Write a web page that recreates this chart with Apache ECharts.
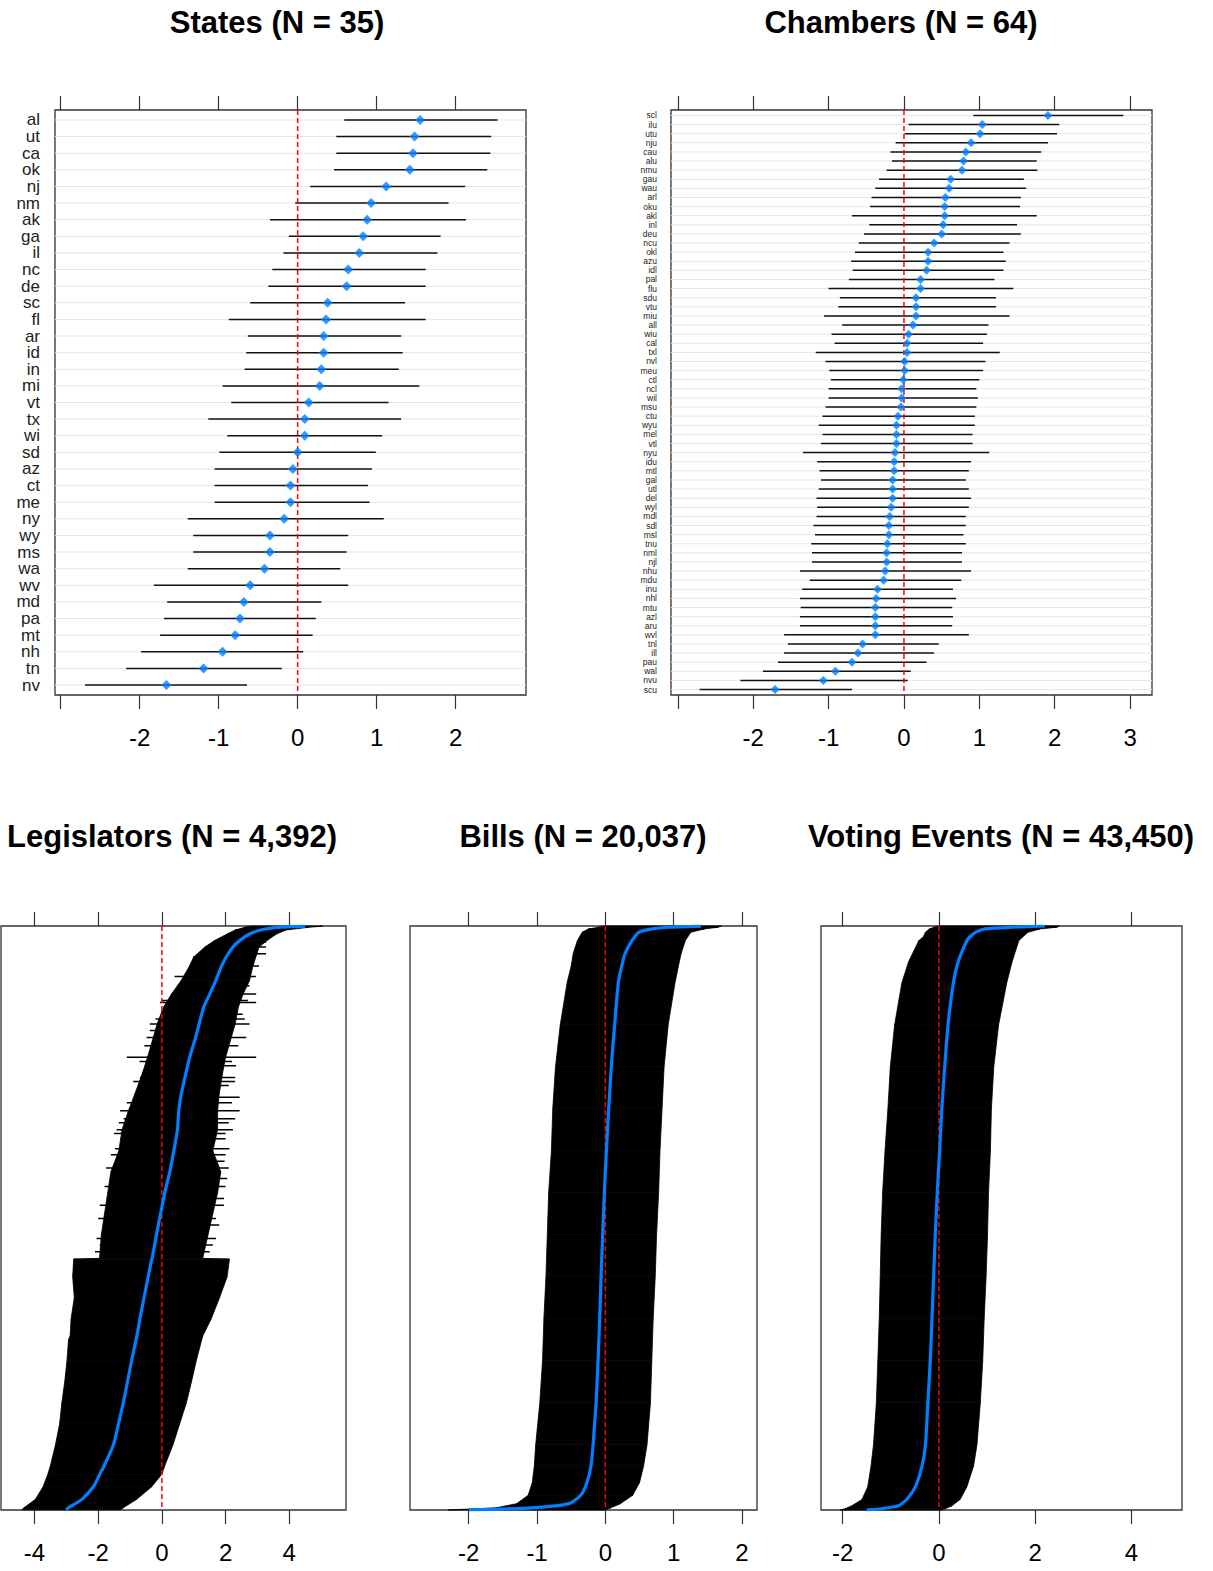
<!DOCTYPE html>
<html><head><meta charset="utf-8">
<script src="https://cdn.jsdelivr.net/npm/echarts@6/dist/echarts.min.js"></script>
<style>html,body{margin:0;padding:0;background:#fff}#c{width:1213px;height:1571px}</style>
</head><body><div id="c"></div>
<script>
// ---------- DATA ----------
const stateNames = ['al','ut','ca','ok','nj','nm','ak','ga','il','nc','de','sc','fl','ar','id','in','mi','vt','tx','wi','sd','az','ct','me','ny','wy','ms','wa','wv','md','pa','mt','nh','tn','nv'];
const statePt = [1.55,1.48,1.46,1.42,1.12,0.93,0.88,0.83,0.78,0.64,0.62,0.38,0.36,0.33,0.33,0.30,0.28,0.14,0.09,0.09,0.0,-0.06,-0.09,-0.09,-0.17,-0.35,-0.35,-0.42,-0.60,-0.68,-0.73,-0.79,-0.95,-1.19,-1.66];
const stateLo = [0.59,0.49,0.49,0.46,0.16,-0.03,-0.35,-0.11,-0.18,-0.32,-0.37,-0.60,-0.87,-0.63,-0.65,-0.67,-0.95,-0.84,-1.13,-0.89,-0.99,-1.05,-1.05,-1.05,-1.39,-1.32,-1.32,-1.39,-1.82,-1.65,-1.69,-1.74,-1.98,-2.17,-2.69];
const stateHi = [2.53,2.45,2.44,2.40,2.12,1.91,2.13,1.81,1.77,1.62,1.62,1.36,1.62,1.31,1.33,1.28,1.54,1.15,1.31,1.07,0.99,0.94,0.89,0.91,1.09,0.64,0.62,0.54,0.64,0.30,0.23,0.19,0.07,-0.20,-0.64];

const chamberNames = ['scl','ilu','utu','nju','cau','alu','nmu','gau','wau','arl','oku','akl','inl','deu','ncu','okl','azu','idl','pal','flu','sdu','vtu','miu','all','wiu','cal','txl','nvl','meu','ctl','ncl','wil','msu','ctu','wyu','mel','vtl','nyu','idu','mtl','gal','utl','del','wyl','mdl','sdl','msl','tnu','nml','njl','nhu','mdu','inu','nhl','mtu','azl','aru','wvl','tnl','ill','pau','wal','nvu','scu'];
const chamberPt = [1.91,1.04,1.01,0.89,0.82,0.79,0.77,0.62,0.60,0.55,0.54,0.54,0.52,0.50,0.40,0.32,0.32,0.30,0.22,0.22,0.16,0.16,0.16,0.12,0.06,0.04,0.04,0.01,0.01,-0.01,-0.03,-0.03,-0.04,-0.08,-0.10,-0.10,-0.10,-0.12,-0.13,-0.13,-0.15,-0.15,-0.15,-0.17,-0.19,-0.20,-0.20,-0.22,-0.23,-0.23,-0.25,-0.27,-0.35,-0.37,-0.38,-0.38,-0.38,-0.38,-0.55,-0.61,-0.69,-0.91,-1.07,-1.71];
const chamberLo = [0.92,0.06,0.01,-0.11,-0.18,-0.16,-0.23,-0.33,-0.38,-0.43,-0.45,-0.69,-0.46,-0.53,-0.60,-0.65,-0.70,-0.68,-0.73,-1.00,-0.85,-0.87,-1.06,-0.82,-0.96,-0.92,-1.17,-1.04,-0.99,-0.97,-1.00,-1.00,-1.04,-1.08,-1.13,-1.08,-1.10,-1.34,-1.15,-1.12,-1.10,-1.13,-1.16,-1.15,-1.16,-1.20,-1.18,-1.23,-1.22,-1.22,-1.38,-1.25,-1.35,-1.38,-1.37,-1.38,-1.38,-1.59,-1.54,-1.59,-1.67,-1.87,-2.17,-2.71];
const chamberHi = [2.91,2.06,2.03,1.91,1.82,1.76,1.77,1.59,1.62,1.55,1.54,1.76,1.50,1.55,1.40,1.32,1.35,1.32,1.20,1.45,1.22,1.22,1.40,1.12,1.10,1.05,1.27,1.08,1.05,1.00,0.96,0.98,0.96,0.94,0.94,0.91,0.91,1.13,0.89,0.86,0.82,0.86,0.89,0.86,0.82,0.82,0.79,0.82,0.77,0.77,0.89,0.76,0.65,0.69,0.64,0.65,0.64,0.86,0.46,0.40,0.30,0.09,0.05,-0.69];

// Legislators (N = 4,392): sampled rows (rank from top)
const legN = 4392;
const legIdx = [1,10,30,60,110,158,233,309,412,512,612,737,863,988,1114,1264,1390,1532,1690,1848,2006,2164,2322,2480,2500,2506,2638,2796,2954,3081,3112,3270,3428,3586,3744,3902,4060,4124,4218,4313,4376,4392];
const legPt  = [4.5,3.6,3.1,2.75,2.44,2.23,2.02,1.86,1.69,1.5,1.31,1.17,1.03,0.87,0.75,0.61,0.53,0.49,0.375,0.25,0.09,-0.04,-0.17,-0.29,-0.31,-0.32,-0.43,-0.56,-0.69,-0.78,-0.81,-0.95,-1.08,-1.21,-1.36,-1.52,-1.81,-1.95,-2.15,-2.51,-2.93,-3.0];
const legLo  = [2.8,2.6,2.3,2.05,1.65,1.35,1.0,0.85,0.6,0.3,0.05,-0.15,-0.3,-0.45,-0.62,-0.85,-1.05,-1.25,-1.35,-1.6,-1.7,-1.8,-1.9,-1.95,-1.96,-2.77,-2.8,-2.75,-2.85,-2.88,-2.93,-2.98,-3.05,-3.14,-3.21,-3.34,-3.5,-3.58,-3.73,-3.97,-4.33,-4.4];
const legHi  = [5.05,4.6,3.9,3.6,3.3,3.05,2.95,2.85,2.75,2.55,2.4,2.3,2.15,2.0,1.9,1.8,1.75,1.75,1.6,1.85,1.75,1.6,1.45,1.3,1.28,2.12,2.05,1.81,1.55,1.29,1.25,1.08,0.93,0.77,0.56,0.35,0.09,0.0,-0.32,-0.79,-1.21,-1.3];
// individual wide legislator intervals sticking out of the band
const legSpikeIdx = [120,158,208,233,300,380,450,512,560,575,663,700,737,787,838,900,988,1020,1051,1139,1170,1200,1289,1330,1390,1450,1480,1532,1560,1600,1675,1720,1770,1820,1900,1960,2050,2100,2200,2250,2350,2400,2450];
const legSpikeLo  = [1.6,1.5,1.3,0.98,0.9,0.4,0.5,0.56,0.0,-0.06,0.2,-0.2,-0.38,-0.38,-0.48,-0.55,-1.10,-0.7,-0.2,-0.69,-0.9,-0.6,-0.79,-1.1,-1.31,-1.2,-1.35,-1.42,-1.5,-1.3,-1.47,-1.6,-1.47,-1.75,-1.6,-1.8,-1.7,-1.95,-2.0,-1.85,-2.05,-1.95,-2.1];
const legSpikeHi  = [3.27,3.27,3.27,2.85,3.05,2.95,2.75,2.96,2.7,2.96,2.54,2.6,2.75,2.1,2.65,2.4,2.96,2.2,2.33,2.3,2.3,2.1,2.44,2.2,2.44,2.3,2.1,2.23,2.0,2.0,2.12,2.0,1.97,2.1,2.05,2.0,1.95,1.95,1.7,1.8,1.7,1.6,1.5];

// Bills (N = 20,037)
const billN = 20037;
const billIdx = [1,43,101,216,505,937,1369,1946,3388,4829,6271,7712,9154,10595,12037,13478,14920,16361,17803,18523,19100,19532,19820,19964,20037];
const billPt  = [1.4,0.9,0.68,0.49,0.39,0.29,0.24,0.19,0.136,0.087,0.049,0.015,-0.015,-0.039,-0.063,-0.083,-0.107,-0.136,-0.18,-0.21,-0.27,-0.36,-0.53,-1.07,-2.0];
const billLo  = [0.0,-0.1,-0.25,-0.34,-0.41,-0.47,-0.5,-0.56,-0.66,-0.73,-0.77,-0.79,-0.83,-0.85,-0.87,-0.9,-0.92,-0.96,-1.02,-1.04,-1.07,-1.13,-1.3,-1.6,-2.3];
const billHi  = [1.7,1.65,1.45,1.25,1.17,1.11,1.07,1.02,0.92,0.86,0.83,0.80,0.78,0.75,0.73,0.70,0.68,0.66,0.61,0.56,0.50,0.40,0.22,0.08,0.0];

// Voting Events (N = 43,450)
const voteN = 43450;
const voteIdx = [1,94,219,469,782,1094,2657,4220,7346,10472,13598,16724,19850,22976,26102,29228,32354,35480,38606,40169,41732,42670,43139,43357,43450];
const votePt  = [2.2,1.5,0.96,0.76,0.65,0.58,0.40,0.30,0.19,0.12,0.06,0.014,-0.035,-0.076,-0.11,-0.145,-0.18,-0.23,-0.28,-0.35,-0.49,-0.67,-0.84,-1.19,-1.5];
const voteLo  = [0.0,-0.1,-0.2,-0.28,-0.32,-0.42,-0.63,-0.77,-0.92,-1.01,-1.06,-1.12,-1.17,-1.2,-1.22,-1.24,-1.27,-1.30,-1.36,-1.41,-1.48,-1.6,-1.81,-1.95,-2.05];
const voteHi  = [2.5,2.45,2.1,1.85,1.75,1.66,1.52,1.41,1.24,1.14,1.09,1.07,1.03,1.01,0.98,0.94,0.91,0.86,0.79,0.72,0.58,0.44,0.27,0.13,0.05];

// tick values / tick labels
const stateTicks = [-3,-2,-1,0,1,2], stateTickLabels = [-2,-1,0,1,2];
const chamberTicks = [-3,-2,-1,0,1,2,3], chamberTickLabels = [-2,-1,0,1,2,3];
const legTicks = [-4,-2,0,2,4], legTickLabels = [-4,-2,0,2,4];
const billTicks = [-2,-1,0,1,2], billTickLabels = [-2,-1,0,1,2];
const voteTicks = [-2,0,2,4], voteTickLabels = [-2,0,2,4];

// ---------- CHART ----------
const FONT = '"Liberation Sans", Arial, sans-serif';
const chart = echarts.init(document.getElementById('c'), null, {renderer: 'svg'});

const grids = [
  {left: 55, top: 110, width: 471, height: 585},
  {left: 671, top: 110, width: 481, height: 585},
  {left: 1, top: 926, width: 345, height: 584},
  {left: 410, top: 926, width: 347, height: 584},
  {left: 821, top: 926, width: 361, height: 584}
].map(g => Object.assign(g, {show: true, borderColor: '#333', borderWidth: 1.3, backgroundColor: '#fff', containLabel: false}));

const xRanges = [[-3.07, 2.89], [-3.09, 3.29], [-5.05, 5.78], [-2.86, 2.22], [-2.45, 5.05]];
const tickSets = [stateTicks, chamberTicks, legTicks, billTicks, voteTicks];
const labelSets = [stateTickLabels, chamberTickLabels, legTickLabels, billTickLabels, voteTickLabels];

const xAxes = [];
xRanges.forEach((r, gi) => {
  ['bottom', 'top'].forEach(pos => {
    xAxes.push({
      type: 'value', gridIndex: gi, position: pos, min: r[0], max: r[1],
      axisLine: {show: false, onZero: false}, splitLine: {show: false},
      axisTick: {show: true, inside: false, length: 14, customValues: tickSets[gi], lineStyle: {color: '#333', width: 1.2}},
      axisLabel: {show: pos === 'bottom', customValues: labelSets[gi], fontSize: 24, color: '#000', margin: 30,
        fontFamily: FONT, formatter: v => String(v), showMinLabel: true, showMaxLabel: true}
    });
  });
});

function rowYAxis(gi, n) {
  return {type: 'value', gridIndex: gi, min: 0.4, max: n + 0.6, inverse: true,
    axisLine: {show: false}, axisTick: {show: false}, splitLine: {show: false}, axisLabel: {show: false}};
}
function hiddenYAxis(gi, n) {
  return {type: 'value', gridIndex: gi, min: 0, max: n + 1, inverse: true,
    axisLine: {show: false}, axisTick: {show: false}, splitLine: {show: false}, axisLabel: {show: false}};
}
const yAxes = [rowYAxis(0, stateNames.length), rowYAxis(1, chamberNames.length),
  hiddenYAxis(2, legN), hiddenYAxis(3, billN), hiddenYAxis(4, voteN)];

const series = [];
function dotPanel(gi, names, pt, lo, hi, fontSize, margin) {
  const xi = gi * 2, n = names.length;
  // row gridlines
  series.push({type: 'custom', xAxisIndex: xi, yAxisIndex: gi, silent: true, z: 1,
    data: names.map((_, i) => [0, i + 1]),
    renderItem: (p, api) => {
      const y = api.coord([0, api.value(1)])[1], cs = p.coordSys;
      return {type: 'line', shape: {x1: cs.x, y1: y, x2: cs.x + cs.width, y2: y}, style: {stroke: '#e6e6e6', lineWidth: 1}};
    }});
  // row labels (left of panel)
  series.push({type: 'custom', xAxisIndex: xi, yAxisIndex: gi, silent: true, z: 5, clip: false,
    data: names.map((nm, i) => [0, i + 1, nm]),
    renderItem: (p, api) => {
      const y = api.coord([0, api.value(1)])[1], cs = p.coordSys;
      return {type: 'text', x: cs.x - margin, y: y,
        style: {text: names[p.dataIndex], fontSize: fontSize, fontFamily: FONT, fill: '#222',
          align: 'right', verticalAlign: 'middle'}};
    }});
  // interval bars
  series.push({type: 'custom', xAxisIndex: xi, yAxisIndex: gi, silent: true, z: 2,
    data: names.map((_, i) => [lo[i], hi[i], i + 1]),
    renderItem: (p, api) => {
      const a = api.coord([api.value(0), api.value(2)]), b = api.coord([api.value(1), api.value(2)]);
      return {type: 'line', shape: {x1: a[0], y1: a[1], x2: b[0], y2: b[1]}, style: {stroke: '#111', lineWidth: 1.5}};
    }});
  series.push({type: 'line', xAxisIndex: xi, yAxisIndex: gi, silent: true, z: 3, symbol: 'none',
    data: [[0, 0.4], [0, n + 0.6]], lineStyle: {color: '#ff0000', width: 1.5, type: [5, 3]}});
  series.push({type: 'scatter', xAxisIndex: xi, yAxisIndex: gi, silent: true, z: 4,
    symbol: 'diamond', symbolSize: gi === 0 ? 10 : 9, itemStyle: {color: '#0080ff'},
    data: pt.map((v, i) => [v, i + 1])});
}
dotPanel(0, stateNames, statePt, stateLo, stateHi, 17, 15);
dotPanel(1, chamberNames, chamberPt, chamberLo, chamberHi, 8.5, 14);

function bandPanel(gi, n, idx, pt, lo, hi, spikes) {
  const xi = gi * 2;
  const quads = [];
  for (let i = 0; i < idx.length - 1; i++) quads.push([lo[i], hi[i], idx[i], lo[i + 1], hi[i + 1], idx[i + 1]]);
  series.push({type: 'custom', xAxisIndex: xi, yAxisIndex: gi, silent: true, z: 2, data: quads,
    renderItem: (p, api) => {
      const a = api.coord([api.value(0), api.value(2)]), b = api.coord([api.value(1), api.value(2)]);
      const c = api.coord([api.value(4), api.value(5)]), d = api.coord([api.value(3), api.value(5)]);
      return {type: 'polygon', shape: {points: [a, b, c, d]}, style: {fill: '#000', stroke: '#000', lineWidth: 0.8}};
    }});
  if (spikes) {
    series.push({type: 'custom', xAxisIndex: xi, yAxisIndex: gi, silent: true, z: 2,
      data: spikes[0].map((v, i) => [spikes[1][i], spikes[2][i], v]),
      renderItem: (p, api) => {
        const a = api.coord([api.value(0), api.value(2)]), b = api.coord([api.value(1), api.value(2)]);
        return {type: 'line', shape: {x1: a[0], y1: a[1], x2: b[0], y2: b[1]}, style: {stroke: '#000', lineWidth: 1.5}};
      }});
  }
  series.push({type: 'line', xAxisIndex: xi, yAxisIndex: gi, silent: true, z: 3, symbol: 'none',
    data: [[0, 0], [0, n + 1]], lineStyle: {color: '#ff0000', width: 1.5, type: [5, 3]}});
  series.push({type: 'line', xAxisIndex: xi, yAxisIndex: gi, silent: true, z: 4, symbol: 'none', smooth: 0.2,
    data: pt.map((v, i) => [v, idx[i]]), lineStyle: {color: '#0080ff', width: 3.2}});
}
bandPanel(2, legN, legIdx, legPt, legLo, legHi, [legSpikeIdx, legSpikeLo, legSpikeHi]);
bandPanel(3, billN, billIdx, billPt, billLo, billHi, null);
bandPanel(4, voteN, voteIdx, votePt, voteLo, voteHi, null);

const titles = [
  {text: 'States (N = 35)', x: 277, y: 22},
  {text: 'Chambers (N = 64)', x: 901, y: 22},
  {text: 'Legislators (N = 4,392)', x: 172, y: 836},
  {text: 'Bills (N = 20,037)', x: 583, y: 836},
  {text: 'Voting Events (N = 43,450)', x: 1001, y: 836}
];

chart.setOption({
  animation: false,
  backgroundColor: '#fff',
  grid: grids,
  xAxis: xAxes,
  yAxis: yAxes,
  series: series,
  graphic: titles.map(t => ({type: 'text', x: t.x, y: t.y, silent: true,
    style: {text: t.text, fontSize: 31, fontWeight: 'bold', fontFamily: FONT, fill: '#000',
      align: 'center', verticalAlign: 'middle', textAlign: 'center', textVerticalAlign: 'middle'}}))
});
</script></body></html>
